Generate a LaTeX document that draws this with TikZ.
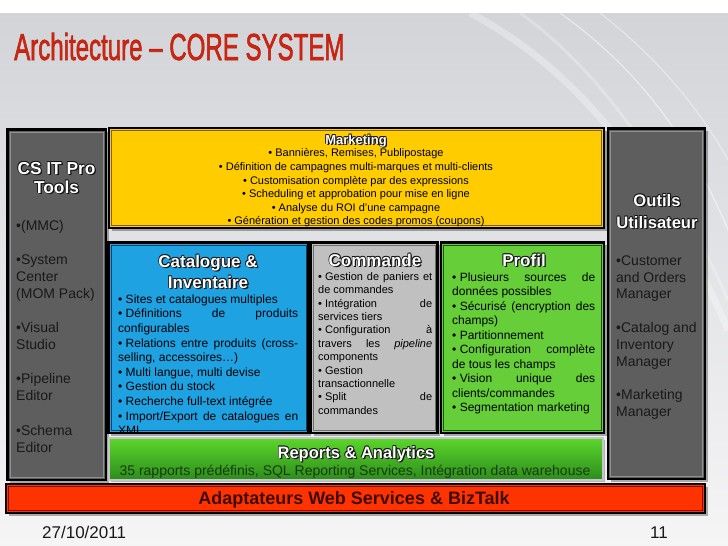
\documentclass[tikz,border=0pt]{standalone}
\usepackage{fontspec}
\usepackage{graphicx}
\setmainfont{Liberation Sans}
\usetikzlibrary{calc}
\definecolor{bgtop}{RGB}{210,212,216}
\definecolor{bgbot}{RGB}{245,245,246}
\definecolor{titlered}{RGB}{206,38,18}
\definecolor{panelgrey}{RGB}{94,94,94}
\definecolor{panelgreyline}{RGB}{145,145,145}
\definecolor{mktyellow}{RGB}{255,204,0}
\definecolor{mktline}{RGB}{125,95,35}
\definecolor{catblue}{RGB}{30,162,226}
\definecolor{catline}{RGB}{20,60,90}
\definecolor{cmdgrey}{RGB}{192,192,192}
\definecolor{cmdline}{RGB}{110,110,110}
\definecolor{profgreen}{RGB}{102,206,56}
\definecolor{profline}{RGB}{30,80,20}
\definecolor{reptop}{RGB}{92,214,44}
\definecolor{repbot}{RGB}{44,140,28}
\definecolor{reptext}{RGB}{24,58,14}
\definecolor{adared}{RGB}{255,51,0}
\definecolor{adaline}{RGB}{120,20,0}
\definecolor{adatext}{RGB}{60,12,0}
\definecolor{bodytext}{RGB}{25,25,25}
\definecolor{hdrshade}{RGB}{20,20,20}

\newcommand\panelbox[6]{%
  \fill[black, opacity=0.3] (#1+2.5,#2+2.5) rectangle (#3+2.5,#4+2.5);
  \fill[#5] (#1,#2) rectangle (#3,#4);
  \draw[black, line width=2.6pt] (#1,#2) rectangle (#3,#4);
  \draw[#6, line width=0.7pt] (#1+2.4,#2+2.4) rectangle (#3-2.4,#4-2.4);
}
% text filled in the current colour and stroked: #1 stroke rgb, #2 width, #3 text
\newcommand\strokedtext[3]{\special{pdf:literal direct #1 RG #2 w 2 Tr}#3\special{pdf:literal direct 0 Tr 0.4 w}}
% white text with a dark outline and shadow
\newcommand\shcopy[3]{\rlap{\kern#1\raisebox{#2}{\textcolor{hdrshade}{#3}}}}
\newcommand\shtext[1]{%
  \shcopy{1.3pt}{-1.3pt}{#1}\shcopy{0.6pt}{-0.6pt}{#1}\shcopy{-0.6pt}{-0.6pt}{#1}%
  \shcopy{0.6pt}{0.6pt}{#1}\shcopy{-0.6pt}{0.6pt}{#1}\textcolor{white}{#1}}
\newcommand\hdr[5]{%
  \node[hdrtext, font=\bfseries\fontsize{#5}{#5}\selectfont] (#1) at (#2,#3) {\shtext{#4}};
}
\newcommand\bul{•\hspace{0.28em}}

\begin{document}
\begin{tikzpicture}[x=1pt,y=-1pt,
  hdrtext/.style={anchor=base, inner sep=0},
  bodyjust/.style={anchor=north west, align=justify, inner sep=0, text=black},
  sidetext/.style={anchor=north west, align=left, inner sep=0, text=bodytext,
    font=\fontsize{14}{17}\selectfont}]
\useasboundingbox (0,0) rectangle (728,546);
% background
\fill[white] (0,0) rectangle (728,546);
\shade[top color=bgtop, bottom color=bgbot] (0,13) rectangle (728,546);
\begin{scope}
\clip (0,13) rectangle (728,546);
\draw[white, opacity=0.3, line width=7pt] (470,13) .. controls (560,60) and (650,150) .. (728,330);
\draw[white, opacity=0.5, line width=1.2pt] (560,13) .. controls (640,70) and (690,140) .. (728,230);
\draw[white, opacity=0.4, line width=1.2pt] (600,13) .. controls (660,60) and (700,110) .. (728,160);
\draw[white, opacity=0.25, line width=3pt] (520,13) .. controls (600,70) and (670,170) .. (728,300);
\end{scope}

% title
\node[anchor=base west, inner sep=0, text=titlered] (title) at (14,60)
  {\fontsize{37.6}{40}\selectfont\scalebox{0.64}[1]{\strokedtext{0.72 0.12 0.05}{0.7}{Architecture – CORE SYSTEM}}};

% panels
\panelbox{7.5}{129.5}{106}{480}{panelgrey}{panelgreyline}
\panelbox{608}{128.5}{705}{479}{panelgrey}{panelgreyline}
\panelbox{109}{128}{604}{228}{mktyellow}{mktline}
\panelbox{108.5}{242.5}{308.5}{433}{catblue}{catline}
\panelbox{311}{242.5}{437.5}{433}{cmdgrey}{cmdline}
\panelbox{441}{242.5}{604}{433}{profgreen}{profline}
% reports
\fill[black, opacity=0.25] (111,440) rectangle (605,482);
\shade[top color=reptop, bottom color=repbot] (109,438) rectangle (603,480);
\draw[gray!45, line width=1.5pt] (109,438) rectangle (603,480);
% adaptateurs bar
\panelbox{6}{484}{705}{513}{adared}{adaline}

% headers
\hdr{hcs1}{56.5}{174}{CS IT Pro}{17.3}
\hdr{hcs2}{56.5}{193}{Tools}{17.3}
\hdr{hout1}{657}{206}{Outils}{16.6}
\hdr{hout2}{657}{228}{Utilisateur}{16.6}
\hdr{hmkt}{356}{144}{Marketing}{13}
\hdr{hcat1}{208}{267}{Catalogue \&}{17}
\hdr{hcat2}{208}{288}{Inventaire}{17}
\hdr{hcmd}{375}{266}{Commande}{17}
\hdr{hprof}{524}{266}{Profil}{17}
\hdr{hrep}{356}{458}{Reports \& Analytics}{16.5}

% side texts
\node[sidetext] (csbody) at (16,217.4)
  {\rule{0pt}{12.6pt}•(MMC)\\[17.2pt]
   •System\\ Center\\ (MOM Pack)\\[17.2pt]
   •Visual\\ Studio\\[17.2pt]
   •Pipeline\\ Editor\\[17.2pt]
   •Schema\\ Editor};
\node[sidetext, font=\fontsize{14}{16.8}\selectfont] (outbody) at (616,252.4)
  {\rule{0pt}{12.6pt}•Customer\\ and Orders\\ Manager\\[16.8pt]
   •Catalog and\\ Inventory\\ Manager\\[16.8pt]
   •Marketing\\ Manager};

% marketing body
\node[anchor=north, align=center, inner sep=0, text=black,
  font=\fontsize{11}{13.6}\selectfont] (mktbody) at (356,146.7)
  {\rule{0pt}{9.9pt}• Bannières, Remises, Publipostage\\
   • Définition de campagnes multi-marques et multi-clients\\
   • Customisation complète par des expressions\\
   • Scheduling et approbation pour mise en ligne\\
   • Analyse du ROI d’une campagne\\
   • Génération et gestion des codes promos (coupons)};

% catalogue body
\node[bodyjust, text width=180pt, font=\fontsize{12}{14.6}\selectfont] (catbody) at (118,292.2)
  {\hyphenpenalty=10000 \exhyphenpenalty=10000 \parindent=0pt
   \rule{0pt}{10.8pt}\bul Sites et catalogues multiples\par
   \bul Définitions de produits\linebreak configurables\par
   \bul Relations entre produits (cross-\linebreak selling, accessoires…)\par
   \bul Multi langue, multi devise\par
   \bul Gestion du stock\par
   \bul Recherche full-text intégrée\par
   \bul Import/Export de catalogues en\linebreak XML};

% commande body
\node[bodyjust, text width=114pt, font=\fontsize{11}{13.4}\selectfont] (cmdbody) at (318,270.1)
  {\hyphenpenalty=10000 \exhyphenpenalty=10000 \parindent=0pt
   \rule{0pt}{9.9pt}\bul Gestion de paniers et\linebreak de commandes\par
   \bul Intégration de\linebreak services tiers\par
   \bul Configuration à\linebreak travers les \textit{pipeline}\linebreak components\par
   \bul Gestion\newline transactionnelle\par
   \bul Split de\linebreak commandes};

% profil body
\node[bodyjust, text width=143pt, font=\fontsize{12}{14.5}\selectfont] (profbody) at (452,270.2)
  {\hyphenpenalty=10000 \exhyphenpenalty=10000 \parindent=0pt
   \rule{0pt}{10.8pt}\bul Plusieurs sources de\linebreak données possibles\par
   \bul Sécurisé (encryption des\linebreak champs)\par
   \bul Partitionnement\par
   \bul Configuration complète\linebreak de tous les champs\par
   \bul Vision unique des\linebreak clients/commandes\par
   \bul Segmentation marketing};

% reports body
\node[anchor=base, inner sep=0, text=reptext, font=\fontsize{14}{16}\selectfont] (repbody) at (355,475)
  {35 rapports prédéfinis, SQL Reporting Services, Intégration data warehouse};

% adaptateurs
\node[anchor=base, inner sep=0, text=adatext, font=\bfseries\fontsize{18}{20}\selectfont] (ada) at (354,504.5)
  {Adaptateurs Web Services \& BizTalk};

% footer
\node[anchor=base west, inner sep=0, text=bodytext, font=\fontsize{17}{19}\selectfont] (date) at (42,538) {27/10/2011};
\node[anchor=base, inner sep=0, text=bodytext, font=\fontsize{17}{19}\selectfont] (pagenum) at (659,538) {11};
\end{tikzpicture}
\end{document}
